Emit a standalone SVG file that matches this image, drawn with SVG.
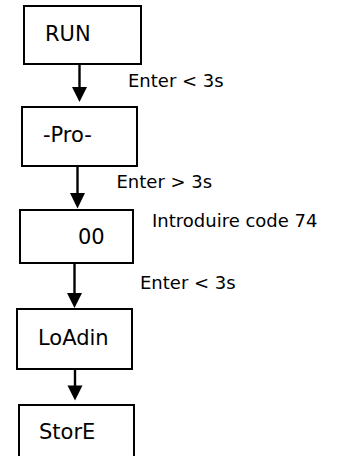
<svg xmlns="http://www.w3.org/2000/svg" width="339" height="456" viewBox="0 0 339 456">
<style>
  .box { fill: #fff; stroke: #000; stroke-width: 2; }
  .nt { font-family: "DejaVu Sans", Verdana, sans-serif; font-size: 21px; fill: #000; }
  .lb { font-family: "DejaVu Sans", Verdana, sans-serif; font-size: 18px; fill: #000; }
  .con { stroke: #000; stroke-width: 2.4; fill: none; }
  .head { fill: #000; }
</style>
<rect width="339" height="456" fill="#fff"/>
<g id="connectors">
  <line class="con" x1="79.5" y1="64" x2="79.5" y2="89"/>
  <polygon class="head" points="72,87 87,87 79.5,102"/>
  <line class="con" x1="77.5" y1="166" x2="77.5" y2="195"/>
  <polygon class="head" points="70,193 85,193 77.5,208.5"/>
  <line class="con" x1="74.5" y1="263" x2="74.5" y2="295"/>
  <polygon class="head" points="67,293 82,293 74.5,308"/>
  <line class="con" x1="75" y1="369" x2="75" y2="387"/>
  <polygon class="head" points="67.5,385.5 82.5,385.5 75,400.5"/>
</g>
<g id="node-run">
  <rect class="box" x="24" y="6" width="117" height="58"/>
  <text class="nt" x="45" y="41">RUN</text>
</g>
<g id="node-pro">
  <rect class="box" x="22" y="107" width="115" height="59"/>
  <text class="nt" x="43" y="142">-Pro-</text>
</g>
<g id="node-00">
  <rect class="box" x="20" y="210" width="113" height="53"/>
  <text class="nt" x="78" y="243.5">00</text>
</g>
<g id="node-loadin">
  <rect class="box" x="17" y="309" width="115" height="60"/>
  <text class="nt" x="38" y="345">LoAdin</text>
</g>
<g id="node-store">
  <rect class="box" x="19" y="405" width="115" height="60"/>
  <text class="nt" x="39" y="439">StorE</text>
</g>
<g id="labels">
  <text class="lb" x="128" y="87">Enter &lt; 3s</text>
  <text class="lb" x="116.5" y="188">Enter &gt; 3s</text>
  <text class="lb" x="152" y="226.5">Introduire code 74</text>
  <text class="lb" x="140" y="289">Enter &lt; 3s</text>
</g>
</svg>
